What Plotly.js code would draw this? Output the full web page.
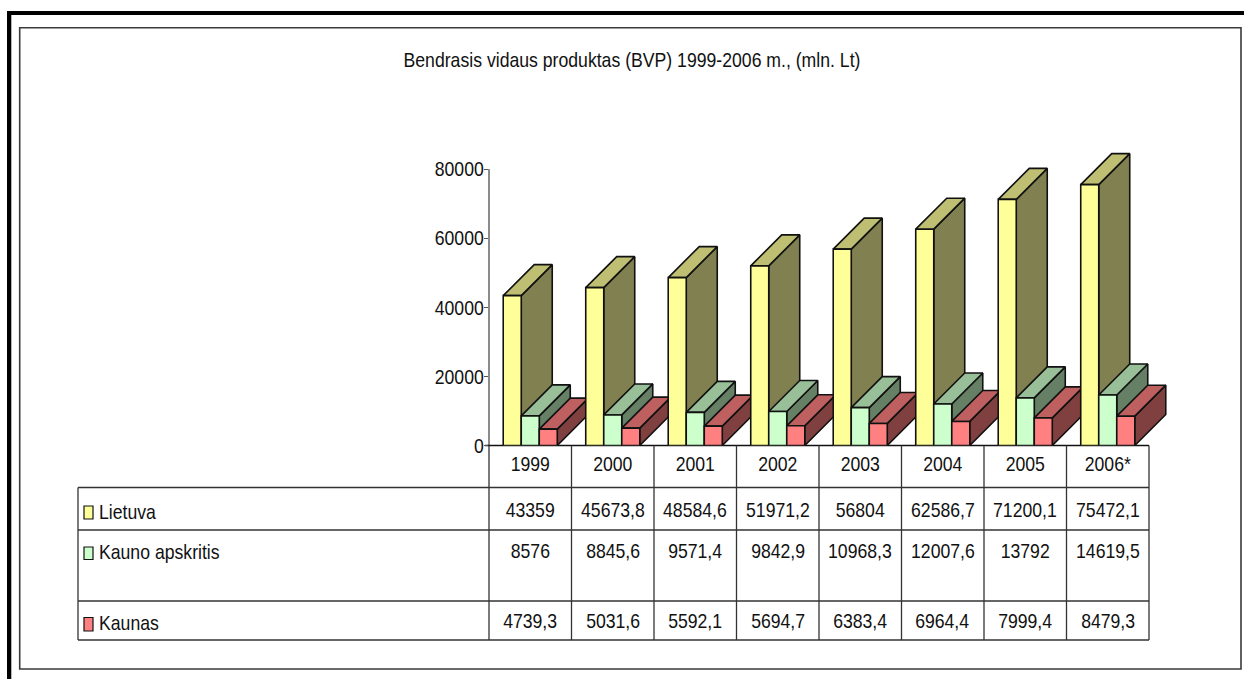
<!DOCTYPE html>
<html>
<head>
<meta charset="utf-8">
<script src="https://cdn.plot.ly/plotly-3.0.1.min.js"></script>
<style>html,body{margin:0;padding:0;background:#fff}#chart{width:1244px;height:679px}</style>
</head>
<body>
<div id="chart"></div>
<script>
const years = ['1999','2000','2001','2002','2003','2004','2005','2006*'];
const lietuva = [43359,45673.8,48584.6,51971.2,56804,62586.7,71200.1,75472.1];
const kaunoApskritis = [8576,8845.6,9571.4,9842.9,10968.3,12007.6,13792,14619.5];
const kaunas = [4739.3,5031.6,5592.1,5694.7,6383.4,6964.4,7999.4,8479.3];
const seriesNames = ['Lietuva','Kauno apskritis','Kaunas'];
const chartTitle = 'Bendrasis vidaus produktas (BVP) 1999-2006 m., (mln. Lt)';
const yTicks = [0,20000,40000,60000,80000];
const frontColors = ['#FFFF99','#CCFFCC','#FF8080'];
const sideColors = ['#808050','#668066','#804040'];
const topColors = ['#BFBF73','#99BF99','#BF6060'];

const W = 1244, H = 679;
const FONT = '"Liberation Sans",Arial,sans-serif';
const FS = 21, NARROW = 0.84;
const INK = '#111111';
const px = v => v / W, py = v => 1 - v / H;
const plot = {l:489, r:1149, t:169, b:445.5};
const seriesValues = [lietuva, kaunoApskritis, kaunas];
const idx = years.map((_, i) => i);
const xSpan = [-0.5, years.length - 0.5], ySpan = [0, 80000];
const barGap = 0.345;
const barW = (1 - barGap) / 3;
const pxPerX = (plot.r - plot.l) / (xSpan[1] - xSpan[0]);
const pxPerY = (plot.b - plot.t) / (ySpan[1] - ySpan[0]);
const depthX = 31 / pxPerX, depthY = 31 / pxPerY;
// the axes run past the table and the top tick so that the 3-D depth faces are not clipped
const pad = 36;
const xRange = [xSpan[0], xSpan[1] + pad / pxPerX], yRange = [ySpan[0], ySpan[1] + pad / pxPerY];
const xDomain = [px(plot.l), px(plot.r + pad)], yDomain = [py(plot.b), py(plot.t - pad)];

const traces = [];
seriesValues.forEach((vals, s) => {
  const sx = [], sy = [], tx = [], ty = [];
  vals.forEach((v, i) => {
    const x0 = i - 1.5 * barW + s * barW, x1 = x0 + barW;
    sx.push(x1, x1 + depthX, x1 + depthX, x1, x1, null);
    sy.push(0, depthY, v + depthY, v, 0, null);
    tx.push(x0, x1, x1 + depthX, x0 + depthX, x0, null);
    ty.push(v, v, v + depthY, v + depthY, v, null);
  });
  const face = (x, y, c) => ({type:'scatter', mode:'lines', x, y, fill:'toself', fillcolor:c,
    line:{color:INK, width:1.6}, showlegend:false, hoverinfo:'skip', xaxis:'x', yaxis:'y'});
  traces.push(face(sx, sy, sideColors[s]), face(tx, ty, topColors[s]));
});
seriesValues.forEach((vals, s) => traces.push({
  type:'bar', name:seriesNames[s], x:idx, y:vals, xaxis:'x2', yaxis:'y2',
  marker:{color:frontColors[s], line:{color:INK, width:1.6}}, showlegend:false
}));

const shapes = [], annotations = [];
const rect = (x0,y0,x1,y1,o) => shapes.push(Object.assign({type:'rect', xref:'paper', yref:'paper',
  x0:px(x0), x1:px(x1), y0:py(y0), y1:py(y1), layer:'below'}, o));
const seg = (x0,y0,x1,y1,c,w) => shapes.push({type:'line', xref:'paper', yref:'paper',
  x0:px(x0), x1:px(x1), y0:py(y0), y1:py(y1), line:{color:c, width:w}, layer:'below'});
// page frame
rect(7,11,11.3,679,{fillcolor:'#000', line:{width:0}});
rect(7,11,1244,15,{fillcolor:'#000', line:{width:0}});
rect(19.7,27.7,1241,669,{fillcolor:'rgba(0,0,0,0)', line:{color:'#3a3a3a', width:1.6}});
// value axis line, stops at the top tick
shapes.push({type:'line', xref:'paper', yref:'y', x0:px(plot.l), x1:px(plot.l), y0:ySpan[0], y1:ySpan[1],
  line:{color:'#666666', width:1.5}, layer:'below'});
// table
const rowLines = [487.5, 530, 601, 640];
const cellW = (plot.r - plot.l) / years.length;
seg(plot.l - 4, plot.b, plot.r, plot.b, INK, 1.3);
rowLines.forEach(y => seg(78, y, plot.r, y, '#333333', 1.3));
seg(78, rowLines[0], 78, rowLines[3], '#333333', 1.3);
for (let i = 0; i <= years.length; i++) {
  const x = plot.l + i * cellW;
  seg(x, plot.b, x, rowLines[3], '#333333', 1.3);
}
// table text
const rowY = [509, 550, 620];
const labelY = [511, 551, 622];
const keyY = [[506,519],[547,559.5],[617.5,631]];
const fmt = v => String(v).replace('.', ',');
seriesValues.forEach((vals, s) => {
  rect(84, keyY[s][0], 93, keyY[s][1], {fillcolor:frontColors[s], line:{color:INK, width:1.2}});
  annotations.push({xref:'paper', yref:'paper', x:px(96.5), y:py(labelY[s]), xanchor:'left', yanchor:'middle',
    text:seriesNames[s], showarrow:false, font:{family:FONT, size:FS, color:INK}});
  vals.forEach((v, i) => annotations.push({xref:'paper', yref:'paper', x:px(plot.l + (i + 0.5) * cellW),
    y:py(rowY[s]), xanchor:'center', yanchor:'middle', text:fmt(v), showarrow:false,
    font:{family:FONT, size:FS, color:INK}}));
});

const layout = {
  width:W, height:H, margin:{l:0,r:0,t:0,b:0}, paper_bgcolor:'#fff', plot_bgcolor:'rgba(0,0,0,0)',
  barmode:'group', bargap:barGap, bargroupgap:0, showlegend:false,
  title:{text:chartTitle, x:px(632), y:py(60), xanchor:'center', yanchor:'middle', xref:'paper', yref:'paper',
    font:{family:FONT, size:FS, color:INK}},
  xaxis:{domain:xDomain, range:xRange, tickmode:'array', tickvals:idx, ticktext:years,
    ticks:'', ticklabelstandoff:3, showgrid:false, zeroline:false, showline:false,
    tickfont:{family:FONT, size:FS, color:INK}},
  yaxis:{domain:yDomain, range:yRange, tickmode:'array', tickvals:yTicks, ticktext:yTicks.map(String),
    ticks:'outside', ticklen:4, tickcolor:'#555', ticklabelstandoff:-4, showgrid:false, zeroline:false, showline:false,
    tickfont:{family:FONT, size:FS, color:INK}},
  xaxis2:{domain:xDomain, range:xRange, overlaying:'x', visible:false},
  yaxis2:{domain:yDomain, range:yRange, overlaying:'y', visible:false},
  shapes, annotations
};
Plotly.newPlot('chart', traces, layout, {displayModeBar:false, staticPlot:true}).then(gd => {
  // the reference's type is a tall, narrow sans: condense the real text horizontally
  gd.querySelectorAll('svg text').forEach(t => {
    const len = t.getComputedTextLength();
    if (len > 0) {
      t.setAttribute('textLength', (len * NARROW).toFixed(2));
      t.setAttribute('lengthAdjust', 'spacingAndGlyphs');
      // row labels are left-aligned: annotations centre their text, so pull them back to the left edge
      if (seriesNames.includes(t.textContent)) {
        t.setAttribute('x', parseFloat(t.getAttribute('x')) - len * (1 - NARROW) / 2);
      }
    }
  });
});
</script>
</body>
</html>
